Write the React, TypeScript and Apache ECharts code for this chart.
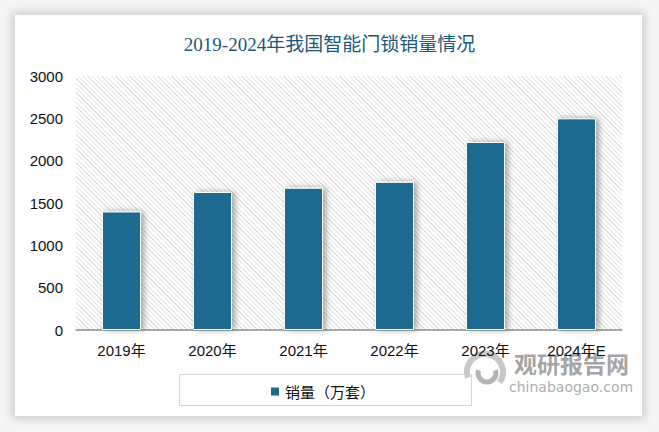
import React, { useEffect, useRef } from "react";
import * as echarts from "echarts";

const categories = ["2019年", "2020年", "2021年", "2022年", "2023年", "2024年E"];
const salesValues = [1400, 1630, 1680, 1750, 2220, 2500];
const yTicks = [0, 500, 1000, 1500, 2000, 2500, 3000];
const seriesName = "销量（万套）";
const titleText = "2019-2024年我国智能门锁销量情况";

export default function App() {
  const ref = useRef<HTMLDivElement>(null);
  useEffect(() => {
    if (!ref.current) return;
    const chart = echarts.init(ref.current, undefined, { renderer: "svg" });
    chart.setOption({
      animation: false,
      backgroundColor: "transparent",
      title: {
        text: titleText,
        left: "center",
        top: 30,
        textStyle: {
          fontFamily: "'Liberation Serif', 'Noto Sans CJK SC', serif",
          fontSize: 19,
          fontWeight: "normal",
          color: "#1a5878",
        },
      },
      grid: { left: 76, right: 37, top: 76, bottom: 102 },
      xAxis: {
        type: "category",
        data: categories,
        axisLine: { show: true, lineStyle: { color: "#8c8c8c", width: 1.5 } },
        axisTick: { show: false },
        axisLabel: {
          color: "#111",
          fontSize: 15,
          margin: 13,
          fontFamily: "'Liberation Sans', 'Noto Sans CJK SC', sans-serif",
        },
      },
      yAxis: {
        type: "value",
        min: yTicks[0],
        max: yTicks[yTicks.length - 1],
        interval: 500,
        axisLine: { show: false },
        axisTick: { show: false },
        splitLine: { show: false },
        axisLabel: {
          color: "#111",
          fontSize: 15,
          margin: 13,
          formatter: (v: number) => String(v),
          fontFamily: "'Liberation Sans', 'Noto Sans CJK SC', sans-serif",
        },
      },
      legend: {
        data: [seriesName],
        left: 264,
        top: 379,
        icon: "rect",
        itemWidth: 10,
        itemHeight: 10,
        itemGap: 6,
        textStyle: {
          fontSize: 15,
          color: "#111",
          fontFamily: "'Noto Sans CJK SC', sans-serif",
        },
      },
      graphic: [
        {
          type: "rect",
          left: 177,
          top: 372,
          shape: { width: 292, height: 31 },
          style: { fill: "none", stroke: "#d4d4d4", lineWidth: 1 },
          silent: true,
        },
        {
          type: "arc",
          shape: { cx: 485, cy: 372, r: 18, startAngle: Math.PI * 0.9, endAngle: Math.PI * 2.2 },
          style: { stroke: "#c8c8c8", lineWidth: 6, fill: "none" },
          silent: true,
        },
        {
          type: "arc",
          shape: { cx: 487, cy: 373, r: 9, startAngle: Math.PI * 1.9, endAngle: Math.PI * 3.1 },
          style: { stroke: "#b4b4b4", lineWidth: 5, fill: "none" },
          silent: true,
        },
        {
          type: "text",
          left: 514,
          top: 351,
          style: {
            text: "观研报告网",
            fontSize: 23,
            fontWeight: "bold",
            fill: "rgba(140,140,140,0.8)",
            fontFamily: "'Noto Sans CJK SC', sans-serif",
          },
          silent: true,
        },
        {
          type: "text",
          left: 509,
          top: 380,
          style: {
            text: "chinabaogao.com",
            fontSize: 14,
            fill: "rgba(150,150,150,0.8)",
            fontFamily: "'DejaVu Sans', sans-serif",
          },
          silent: true,
        },
      ],
      series: [
        {
          name: seriesName,
          type: "bar",
          data: salesValues,
          barWidth: 39,
          itemStyle: {
            color: "#1d6a8e",
            borderColor: "#ffffff",
            borderWidth: 1,
            shadowColor: "rgba(0,0,0,0.35)",
            shadowBlur: 6,
            shadowOffsetX: 3,
            shadowOffsetY: 0,
          },
        },
      ],
    });
    return () => chart.dispose();
  }, []);

  return (
    <div style={{ position: "absolute", left: 0, top: 0, width: 659, height: 432, background: "#f5f5f5", overflow: "hidden" }}>
      <div
        style={{
          position: "absolute",
          left: 15,
          top: 15,
          width: 627,
          height: 401,
          background: "#ffffff",
          boxShadow: "0 0 9px 3px rgba(0,0,0,0.16)",
        }}
      />
      <div
        style={{
          position: "absolute",
          left: 76,
          top: 76,
          width: 546,
          height: 254,
          background:
            "repeating-linear-gradient(45deg, #ffffff 0px, #ffffff 2.4px, #e2e2e2 2.4px, #e2e2e2 3.3px)",
        }}
      />
      <div ref={ref} style={{ position: "absolute", left: 0, top: 0, width: 659, height: 432 }} />
    </div>
  );
}
